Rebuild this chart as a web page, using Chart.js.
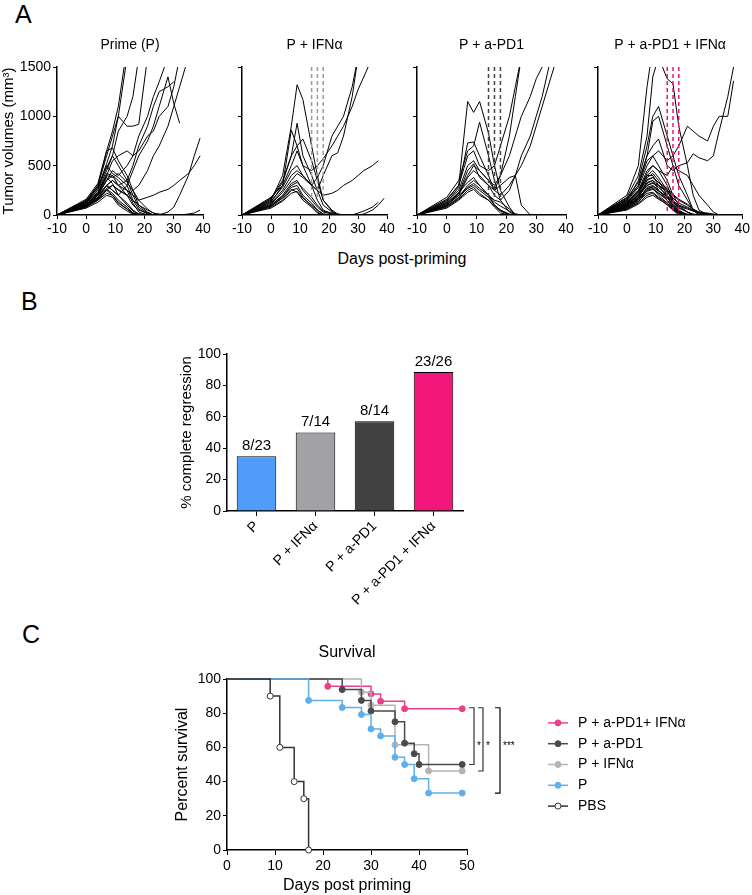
<!DOCTYPE html>
<html>
<head>
<meta charset="utf-8">
<script src="https://cdn.jsdelivr.net/npm/chart.js@4.4.1/dist/chart.umd.min.js"></script>
<style>
  body { margin: 0; background: #fff; width: 752px; height: 895px; position: relative; overflow: hidden;
         font-family: 'Liberation Sans', Arial, Helvetica, sans-serif; }
  canvas { position: absolute; }
  .lbl { position: absolute; color: #000; white-space: nowrap; }
</style>
</head>
<body>
<div class="lbl" style="left:15px;top:2px;font-size:25px;line-height:25px">A</div>
<div class="lbl" style="left:21px;top:289px;font-size:25px;line-height:25px">B</div>
<div class="lbl" style="left:22px;top:622px;font-size:25px;line-height:25px">C</div>
<div class="lbl" style="left:302px;top:251px;width:200px;text-align:center;font-size:16px;line-height:16px">Days post-priming</div>

<canvas id="a1" width="215" height="210" style="left:0;top:30px"></canvas>
<canvas id="a2" width="171" height="210" style="left:228px;top:30px"></canvas>
<canvas id="a3" width="175" height="210" style="left:403px;top:30px"></canvas>
<canvas id="a4" width="168" height="210" style="left:584px;top:30px"></canvas>
<canvas id="bars" width="304" height="280" style="left:167px;top:340px"></canvas>
<canvas id="surv" width="592" height="260" style="left:160px;top:635px"></canvas>

<script>
// ---- Panel A: tumour volume per mouse (mm3), measured on these days ----
const measureDays = [-10, 0, 4, 7, 9, 11, 14, 16, 18, 21, 23, 25, 28, 30, 32, 35, 37, 39];
const treatmentDays = [14, 16, 18];

const primeVolumes = [
  [0, 130, 280, 520, 700, 1000, 1600],
  [0, 160, 320, 650, 850, 1100, 1700],
  [0, 120, 250, 450, 600, 850, 1000, 1200, 1600],
  [0, 140, 300, 600, 800, 1000, 900, 900, 920, 1600],
  [0, 100, 200, 350, 450, 400, 500, 600, 800, 1000, 1200, 1350, 1600],
  [0, 90, 200, 300, 350, 300, 350, 500, 700, 900, 1100, 1250, 1300, 1350],
  [0, 110, 220, 400, 550, 600, 650, 600, 650, 800, 850, 1000, 1100, 1300, 1600],
  [0, 100, 180, 300, 250, 200, 300, 450, 600, 750, 900, 1100, 1400, 1130, 930],
  [0, 90, 160, 250, 300, 250, 200, 250, 300, 450, 600, 700, 900, 1100, 1300, 1600],
  [0, 80, 150, 250, 200, 120, 60, 20, 10, 5, 0, 0, 30, 80, 200, 400, 600, 780],
  [0, 90, 170, 300, 350, 300, 250, 200, 150, 180, 200, 230, 260, 300, 350, 420, 500, 600],
  [0, 70, 130, 200, 180, 100, 40, 10, 0, 0, 0, 0, 0, 0, 0, 10, 20, 50],
  [0, 150, 300, 650, 680, 550, 400, 250, 100, 30, 0],
  [0, 130, 260, 500, 420, 380, 300, 150, 60, 10, 0],
  [0, 120, 230, 420, 400, 350, 250, 120, 30, 0],
  [0, 110, 200, 380, 320, 200, 100, 40, 0],
  [0, 100, 180, 300, 250, 200, 120, 50, 10, 0],
  [0, 90, 160, 260, 220, 150, 80, 20, 0],
  [0, 80, 150, 220, 200, 130, 60, 10, 0],
  [0, 100, 200, 350, 400, 300, 200, 100, 50, 20, 0],
  [0, 140, 280, 480, 600, 500, 350, 200, 80, 20, 0],
  [0, 110, 210, 400, 380, 420, 330, 250, 150, 60, 20, 0],
  [0, 95, 170, 270, 300, 260, 200, 150, 100, 50, 20, 10, 0]
];

const ifnVolumes = [
  [0, 150, 400, 900, 1320, 1170, 700, 400, 150, 50, 10, 0],
  [0, 170, 350, 600, 930, 600, 400, 250, 100, 30, 0],
  [0, 130, 300, 860, 700, 500, 300, 150, 50, 10, 0],
  [0, 160, 330, 600, 700, 770, 550, 350, 150, 40, 0],
  [0, 180, 300, 500, 650, 500, 450, 500, 570, 700, 800, 900, 1100, 1270, 1400, 1600],
  [0, 140, 280, 450, 500, 400, 300, 380, 500, 800, 900, 1000, 1300, 1600],
  [0, 120, 250, 400, 450, 400, 300, 250, 400, 600, 630, 800, 1200, 1600],
  [0, 110, 230, 350, 420, 380, 300, 250, 200, 220, 250, 300, 350, 400, 450, 500, 550],
  [0, 100, 200, 320, 350, 250, 150, 80, 30, 10, 0, 0, 0, 20, 40, 80, 130],
  [0, 90, 180, 300, 330, 270, 180, 100, 40, 20, 10, 0, 0, 0, 10, 50, 100, 170],
  [0, 100, 190, 280, 300, 200, 120, 50, 10, 0],
  [0, 80, 150, 250, 270, 180, 90, 30, 0],
  [0, 90, 170, 260, 230, 150, 80, 20, 0],
  [0, 70, 140, 220, 240, 170, 100, 50, 10, 0]
];

const pd1Volumes = [
  [0, 150, 300, 1150, 1040, 1150, 830, 500, 250, 80, 0],
  [0, 180, 350, 650, 700, 940, 600, 350, 150, 30, 0],
  [0, 130, 280, 730, 740, 600, 400, 250, 400, 800, 1200, 1600],
  [0, 160, 300, 600, 650, 500, 450, 500, 700, 1000, 1300, 1600],
  [0, 140, 250, 500, 550, 450, 350, 300, 400, 600, 800, 1000, 1200, 1380, 1500, 1600],
  [0, 120, 220, 450, 520, 380, 300, 200, 150, 250, 400, 600, 800, 1000, 1200, 1600],
  [0, 110, 200, 380, 450, 400, 300, 250, 200, 300, 400, 500, 700, 900, 1100, 1400, 1600],
  [0, 100, 220, 400, 500, 450, 350, 250, 300, 380, 400, 100, 0],
  [0, 90, 180, 300, 350, 300, 200, 100, 50, 10, 0],
  [0, 100, 200, 270, 300, 250, 180, 100, 50, 0],
  [0, 80, 160, 250, 280, 220, 150, 80, 20, 0],
  [0, 120, 230, 330, 380, 300, 200, 150, 130, 60, 10, 0],
  [0, 70, 150, 230, 260, 200, 150, 90, 40, 0],
  [0, 90, 170, 280, 320, 270, 200, 130, 90, 40, 10, 0]
];

const comboVolumes = [
  [0, 200, 500, 1300, 1700],
  [0, 180, 400, 800, 1400, 1600, 1380, 1330, 900, 500, 200, 50, 0],
  [0, 150, 350, 700, 1000, 1100, 800, 600, 400, 200, 50, 0],
  [0, 170, 330, 600, 950, 1000, 700, 500, 300, 150, 50, 0],
  [0, 160, 300, 600, 700, 770, 500, 450, 500, 530, 620, 580, 550, 600, 850, 1200, 1500],
  [0, 140, 280, 500, 600, 650, 550, 600, 700, 900, 850, 800, 750, 900, 1000, 1000, 1360],
  [0, 130, 250, 450, 500, 450, 400, 500, 450, 400, 300, 200, 100, 30, 0],
  [0, 150, 300, 550, 600, 500, 350, 200, 100, 30, 0],
  [0, 120, 230, 420, 500, 450, 300, 150, 50, 0],
  [0, 110, 220, 400, 450, 380, 250, 120, 40, 0],
  [0, 100, 200, 380, 420, 350, 200, 80, 20, 0],
  [0, 130, 250, 400, 400, 300, 180, 90, 30, 0],
  [0, 90, 180, 350, 380, 330, 250, 150, 80, 30, 10, 0],
  [0, 80, 170, 330, 350, 250, 150, 60, 10, 0],
  [0, 100, 190, 300, 330, 280, 200, 130, 70, 30, 0],
  [0, 70, 150, 280, 300, 250, 180, 100, 40, 0],
  [0, 90, 170, 270, 280, 220, 150, 80, 30, 0],
  [0, 60, 130, 250, 270, 200, 120, 50, 0],
  [0, 110, 200, 300, 320, 300, 250, 200, 150, 100, 60, 30, 10, 0],
  [0, 80, 160, 240, 260, 220, 170, 120, 90, 60, 40, 20, 10, 5, 0],
  [0, 70, 140, 220, 230, 180, 120, 70, 30, 0],
  [0, 100, 210, 320, 350, 300, 230, 170, 120, 80, 50, 30, 20, 10, 0],
  [0, 60, 120, 200, 220, 170, 100, 50, 20, 0],
  [0, 120, 240, 360, 380, 330, 270, 210, 160, 110, 60, 20, 0],
  [0, 50, 110, 180, 200, 160, 110, 60, 30, 10, 0],
  [0, 85, 160, 260, 290, 240, 190, 140, 100, 70, 40, 20, 10, 0]
];

// ---- Panel B: % complete regression ----
const groupNames = ['P', 'P + IFN\u03b1', 'P + a-PD1', 'P + a-PD1 + IFN\u03b1'];
const regressionPct = [34.8, 50, 57.1, 88.5];
const regressionCounts = ['8/23', '7/14', '8/14', '23/26'];
const barColors = ['#4f9cf9', '#a2a2a6', '#414141', '#f4177b'];

// ---- Panel C: survival (Kaplan-Meier steps) ----
const comboSurvDays = [0, 21, 30, 32, 37, 49];
const comboSurvPct  = [100, 95.7, 91.3, 87, 82.6, 82.6];
const pd1SurvDays   = [0, 24, 28, 30, 35, 37, 39, 40, 49];
const pd1SurvPct    = [100, 93.8, 87.5, 81.3, 75, 62.5, 56.3, 50, 50];
const ifnSurvDays   = [0, 28, 30, 35, 42, 49];
const ifnSurvPct    = [100, 92.3, 84.6, 61.5, 46.2, 46.2];
const primeSurvDays = [0, 17, 24, 28, 30, 32, 35, 37, 39, 42, 49];
const primeSurvPct  = [100, 87.5, 83.3, 79.2, 70.8, 66.7, 54.2, 50, 41.7, 33.3, 33.3];
const pbsSurvDays   = [0, 9, 11, 14, 16, 17];
const pbsSurvPct    = [100, 90, 60, 40, 30, 0];
const sigTop    = [82.6, 82.6, 82.6];
const sigBottom = [50, 46.2, 33.3];
const sigText   = ['*', '*', '***'];

Chart.defaults.font.family = "'Liberation Sans', Arial, Helvetica, sans-serif";
Chart.defaults.color = '#000';
Chart.defaults.animation = false;
Chart.defaults.plugins.legend.display = false;
Chart.defaults.plugins.tooltip.enabled = false;

function toPoints(days, vals) {
  return vals.map((v, i) => ({ x: days[i], y: v }));
}

const axisGrid = { drawOnChartArea: false, tickLength: 4, color: '#000', lineWidth: 1 };
const axisBorder = { color: '#000', width: 1.5 };

function spaghetti(id, title, mice, dashColor, dashBottom, first, padRight) {
  const datasets = [];
  if (dashColor) {
    treatmentDays.forEach(d => datasets.push({
      data: [{ x: d, y: 1500 }, { x: d, y: dashBottom }],
      borderColor: dashColor, borderDash: [4, 3], borderWidth: 1.5, pointRadius: 0
    }));
  }
  mice.forEach(v => datasets.push({
    data: toPoints(measureDays, v), borderColor: '#000', borderWidth: 1, pointRadius: 0
  }));
  new Chart(document.getElementById(id), {
    type: 'line',
    data: { datasets },
    options: {
      responsive: false, devicePixelRatio: 1,
      layout: { padding: { left: 0, right: padRight, top: 0, bottom: 0 } },
      plugins: {
        title: { display: true, text: title, fullSize: false, color: '#000',
                 font: { size: 14, weight: 'normal' }, padding: { top: 7, bottom: 13.2 } }
      },
      scales: {
        x: {
          type: 'linear', min: -10, max: 40,
          ticks: { stepSize: 10, font: { size: 14 }, padding: 2, maxRotation: 0 },
          grid: axisGrid, border: axisBorder,
          afterFit: s => { s.height = 25; }
        },
        y: {
          min: 0, max: 1500,
          ticks: { stepSize: 500, display: first, font: { size: 14 }, padding: 2, callback: v => String(v) },
          grid: axisGrid, border: axisBorder,
          title: { display: first, text: 'Tumor volumes (mm\u00b3)', font: { size: 15 }, padding: 0 },
          afterFit: s => { s.width = first ? 57 : 14; }
        }
      }
    }
  });
}

spaghetti('a1', 'Prime (P)', primeVolumes, null, 0, true, 12);
spaghetti('a2', 'P + IFN\u03b1', ifnVolumes, '#9a9a9a', 160, false, 12);
spaghetti('a3', 'P + a-PD1', pd1Volumes, '#444444', 160, false, 12);
spaghetti('a4', 'P + a-PD1 + IFN\u03b1', comboVolumes, '#e0197d', 25, false, 9);

// ---- Panel B ----
const barLabels = {
  id: 'barLabels',
  afterDatasetsDraw(chart) {
    const { ctx } = chart;
    const meta = chart.getDatasetMeta(0);
    ctx.save();
    ctx.font = "15px 'Liberation Sans', Arial, sans-serif";
    ctx.fillStyle = '#000';
    ctx.textAlign = 'center';
    ctx.textBaseline = 'bottom';
    meta.data.forEach((bar, i) => ctx.fillText(regressionCounts[i], bar.x, bar.y - 3));
    ctx.restore();
  }
};

new Chart(document.getElementById('bars'), {
  type: 'bar',
  data: {
    labels: groupNames,
    datasets: [{
      data: regressionPct, backgroundColor: barColors, borderColor: '#000', borderWidth: 1,
      barPercentage: 0.67, categoryPercentage: 1
    }]
  },
  options: {
    responsive: false, devicePixelRatio: 1,
    layout: { padding: { left: 11, right: 8, top: 14, bottom: 0 } },
    scales: {
      x: {
        ticks: { minRotation: 45, maxRotation: 45, font: { size: 14 }, padding: 2 },
        grid: Object.assign({}, axisGrid, { offset: false, tickLength: 5 }), border: axisBorder,
        afterFit: s => { s.height = 109; }
      },
      y: {
        min: 0, max: 100,
        ticks: { stepSize: 20, font: { size: 14 }, padding: 2 },
        grid: axisGrid, border: axisBorder,
        title: { display: true, text: '% complete regression', font: { size: 15 }, padding: 0 },
        afterFit: s => { s.width = 49; }
      }
    }
  },
  plugins: [barLabels]
});

// ---- Panel C ----
function survSet(label, days, pct, color, fill, order) {
  return {
    label, data: toPoints(days, pct), stepped: 'before', order,
    borderColor: color, borderWidth: 1.5, clip: false,
    pointRadius: c => (c.dataIndex === 0 ? 0 : 3),
    pointBackgroundColor: fill, pointBorderColor: color, pointBorderWidth: 1
  };
}

const survExtras = {
  id: 'survExtras',
  afterDraw(chart) {
    const { ctx, chartArea } = chart;
    const y = chart.scales.y;
    ctx.save();
    // significance brackets
    const offs = [7, 16, 33];
    sigText.forEach((t, i) => {
      const x = chartArea.right + offs[i];
      const y1 = y.getPixelForValue(sigTop[i]) - 1;
      const y2 = y.getPixelForValue(sigBottom[i]);
      ctx.strokeStyle = i === 2 ? '#000' : '#333';
      ctx.lineWidth = 1.2;
      ctx.beginPath();
      ctx.moveTo(x - 5, y1); ctx.lineTo(x, y1); ctx.lineTo(x, y2); ctx.lineTo(x - 5, y2);
      ctx.stroke();
      ctx.fillStyle = '#000';
      ctx.font = "10px 'Liberation Sans', Arial, sans-serif";
      ctx.textAlign = 'left';
      ctx.textBaseline = 'middle';
      ctx.fillText(t, x + 3, (y.getPixelForValue(80) + y.getPixelForValue(40)) / 2 - 1);
    });
    // legend
    const x0 = chartArea.right + 81;
    const yMid = (chartArea.top + chartArea.bottom) / 2;
    chart.data.datasets.forEach((ds, i) => {
      const yy = yMid + (i - 2) * 20.8;
      ctx.strokeStyle = ds.borderColor;
      ctx.lineWidth = 1.5;
      ctx.beginPath(); ctx.moveTo(x0, yy); ctx.lineTo(x0 + 20, yy); ctx.stroke();
      ctx.beginPath(); ctx.arc(x0 + 10, yy, 3, 0, Math.PI * 2);
      ctx.fillStyle = ds.pointBackgroundColor; ctx.fill();
      ctx.lineWidth = 1; ctx.stroke();
      ctx.fillStyle = '#000';
      ctx.font = "14px 'Liberation Sans', Arial, sans-serif";
      ctx.textAlign = 'left';
      ctx.textBaseline = 'middle';
      ctx.fillText(ds.label, x0 + 30, yy);
    });
    ctx.restore();
  }
};

new Chart(document.getElementById('surv'), {
  type: 'line',
  data: {
    datasets: [
      survSet('P + a-PD1+ IFN\u03b1', comboSurvDays, comboSurvPct, '#e8408c', '#e8408c', 5),
      survSet('P + a-PD1', pd1SurvDays, pd1SurvPct, '#4a4a4a', '#4a4a4a', 3),
      survSet('P + IFN\u03b1', ifnSurvDays, ifnSurvPct, '#b4b4b4', '#b4b4b4', 4),
      survSet('P', primeSurvDays, primeSurvPct, '#5fb0ea', '#5fb0ea', 2),
      survSet('PBS', pbsSurvDays, pbsSurvPct, '#333333', '#ffffff', 1)
    ]
  },
  options: {
    responsive: false, devicePixelRatio: 1,
    layout: { padding: { left: 13, right: 285, top: 0, bottom: 0 } },
    plugins: {
      title: { display: true, text: 'Survival', fullSize: false, color: '#000',
               font: { size: 16, weight: 'normal' }, padding: { top: 8, bottom: 16.8 } }
    },
    scales: {
      x: {
        type: 'linear', min: 0, max: 50,
        ticks: { stepSize: 10, font: { size: 14 }, padding: 3, maxRotation: 0 },
        grid: Object.assign({}, axisGrid, { tickLength: 5 }), border: axisBorder,
        title: { display: true, text: 'Days post priming', font: { size: 16 }, padding: 0 },
        afterFit: s => { s.height = 45; }
      },
      y: {
        min: 0, max: 100,
        ticks: { stepSize: 20, font: { size: 14 }, padding: 2 },
        grid: axisGrid, border: axisBorder,
        title: { display: true, text: 'Percent survival', font: { size: 16 }, padding: 0 },
        afterFit: s => { s.width = 54; }
      }
    }
  },
  plugins: [survExtras]
});
</script>
</body>
</html>
